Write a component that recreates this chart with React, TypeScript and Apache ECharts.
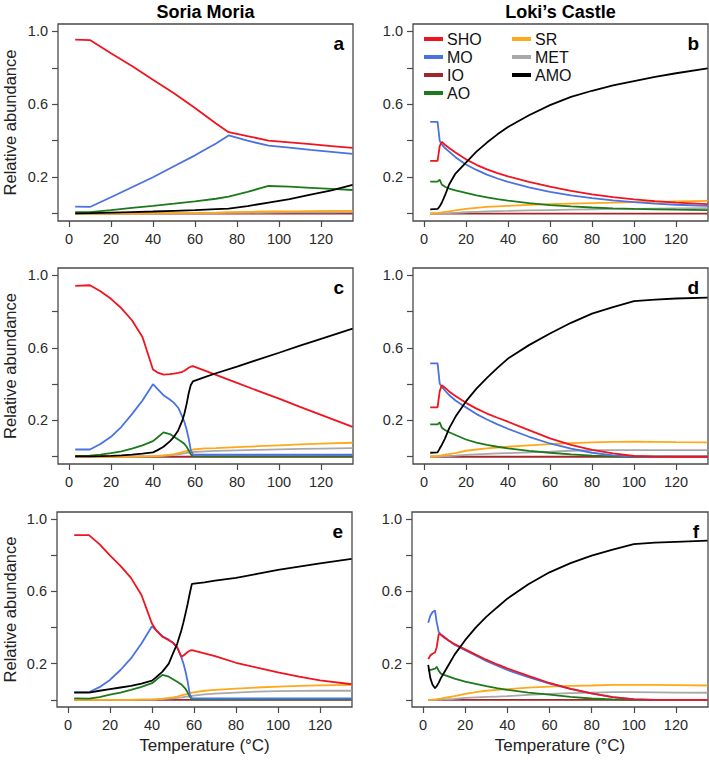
import React, { useEffect, useRef } from "react";
import * as echarts from "echarts";

// ---------- data (relative abundance vs temperature, °C) ----------
const NAMES = ["SHO", "MO", "IO", "AO", "SR", "MET", "AMO"];

// panel a — Soria Moria
const tempA = [3, 10, 20, 30, 40, 50, 60, 70, 76, 85, 95, 105, 115, 125, 135];
const shoA = [0.954, 0.952, 0.88, 0.81, 0.735, 0.66, 0.58, 0.495, 0.447, 0.425, 0.401, 0.391, 0.381, 0.371, 0.361];
const moA = [0.039, 0.037, 0.09, 0.145, 0.2, 0.26, 0.32, 0.385, 0.429, 0.4, 0.373, 0.362, 0.35, 0.339, 0.328];
const ioA = [0, 0, 0, 0, 0, 0, 0, 0, 0, 0, 0, 0, 0, 0, 0];
const aoA = [0.009, 0.009, 0.02, 0.032, 0.043, 0.055, 0.068, 0.082, 0.094, 0.12, 0.152, 0.148, 0.142, 0.136, 0.13];
const srA = [0, 0, 0, 0.001, 0.002, 0.003, 0.004, 0.006, 0.008, 0.01, 0.012, 0.013, 0.014, 0.015, 0.015];
const metA = [0, 0, 0, 0, 0.001, 0.001, 0.002, 0.003, 0.004, 0.005, 0.006, 0.007, 0.008, 0.008, 0.009];
const amoA = [0.002, 0.003, 0.006, 0.009, 0.012, 0.016, 0.02, 0.025, 0.028, 0.042, 0.061, 0.08, 0.105, 0.128, 0.158];

// panel b — Loki's Castle
const tempB = [3, 6.5, 7.5, 8.5, 10, 12, 15, 20, 25, 30, 35, 40, 50, 60, 70, 80, 90, 100, 110, 120, 135];
const shoB = [0.29, 0.29, 0.37, 0.394, 0.378, 0.36, 0.335, 0.298, 0.268, 0.243, 0.222, 0.205, 0.175, 0.148, 0.125, 0.106, 0.091, 0.079, 0.069, 0.061, 0.052];
const moB = [0.503, 0.503, 0.4, 0.38, 0.36, 0.34, 0.31, 0.27, 0.24, 0.214, 0.193, 0.175, 0.145, 0.12, 0.1, 0.085, 0.073, 0.063, 0.055, 0.049, 0.043];
const ioB = [0, 0, 0, 0, 0, 0, 0, 0, 0, 0, 0, 0, 0, 0, 0, 0, 0, 0, 0, 0, 0];
const aoB = [0.176, 0.176, 0.187, 0.16, 0.148, 0.138, 0.128, 0.114, 0.1, 0.09, 0.08, 0.072, 0.058, 0.047, 0.04, 0.034, 0.029, 0.026, 0.024, 0.022, 0.02];
const srB = [0, 0.003, 0.005, 0.007, 0.01, 0.013, 0.018, 0.026, 0.032, 0.037, 0.04, 0.043, 0.048, 0.052, 0.055, 0.058, 0.061, 0.063, 0.065, 0.067, 0.07];
const metB = [0, 0, 0.001, 0.001, 0.002, 0.003, 0.005, 0.008, 0.01, 0.012, 0.014, 0.015, 0.018, 0.02, 0.022, 0.024, 0.026, 0.027, 0.028, 0.029, 0.03];
const amoB = [0.024, 0.026, 0.04, 0.06, 0.1, 0.16, 0.22, 0.28, 0.34, 0.39, 0.435, 0.475, 0.54, 0.595, 0.64, 0.674, 0.703, 0.727, 0.75, 0.77, 0.797];

// panel c — Soria Moria
const tempC = [3, 10, 15, 20, 25, 30, 35, 40, 42, 45, 48, 50, 52, 54, 55, 56, 57, 58, 59, 65, 70, 80, 90, 100, 110, 120, 135];
const shoC = [0.941, 0.945, 0.912, 0.87, 0.818, 0.752, 0.66, 0.481, 0.465, 0.453, 0.455, 0.458, 0.462, 0.468, 0.474, 0.482, 0.49, 0.496, 0.499, 0.473, 0.451, 0.407, 0.363, 0.32, 0.275, 0.231, 0.165];
const moC = [0.04, 0.04, 0.07, 0.11, 0.165, 0.235, 0.31, 0.4, 0.375, 0.339, 0.315, 0.297, 0.27, 0.22, 0.19, 0.15, 0.1, 0.037, 0.012, 0.011, 0.011, 0.011, 0.011, 0.011, 0.011, 0.011, 0.011];
const ioC = [0, 0, 0, 0, 0, 0, 0, 0, 0, 0, 0, 0, 0, 0, 0, 0, 0, 0, 0, 0, 0, 0, 0, 0, 0, 0, 0];
const aoC = [0.005, 0.006, 0.012, 0.02, 0.03, 0.045, 0.063, 0.086, 0.105, 0.134, 0.125, 0.11, 0.095, 0.08, 0.07, 0.055, 0.035, 0.013, 0.003, 0.002, 0.002, 0.002, 0.002, 0.002, 0.002, 0.002, 0.002];
const srC = [0, 0, 0, 0, 0, 0.001, 0.002, 0.003, 0.004, 0.008, 0.012, 0.015, 0.02, 0.025, 0.028, 0.031, 0.033, 0.036, 0.04, 0.046, 0.048, 0.053, 0.058, 0.063, 0.068, 0.072, 0.077];
const metC = [0, 0, 0, 0, 0, 0, 0.001, 0.002, 0.003, 0.005, 0.008, 0.01, 0.013, 0.017, 0.019, 0.021, 0.023, 0.025, 0.026, 0.03, 0.032, 0.035, 0.038, 0.041, 0.043, 0.045, 0.047];
const amoC = [0.002, 0.002, 0.003, 0.005, 0.008, 0.012, 0.017, 0.024, 0.035, 0.055, 0.085, 0.11, 0.145, 0.2, 0.24, 0.29, 0.35, 0.395, 0.415, 0.44, 0.46, 0.497, 0.535, 0.573, 0.612, 0.65, 0.706];

// panel d — Loki's Castle
const tempD = [3, 6.5, 7.5, 8.5, 10, 12, 15, 20, 25, 30, 35, 40, 50, 60, 70, 80, 90, 100, 110, 120, 135];
const shoD = [0.272, 0.272, 0.36, 0.394, 0.38, 0.36, 0.335, 0.297, 0.265, 0.238, 0.215, 0.193, 0.147, 0.101, 0.065, 0.038, 0.018, 0.004, 0.001, 0, 0];
const moD = [0.514, 0.514, 0.404, 0.385, 0.365, 0.34, 0.31, 0.272, 0.235, 0.205, 0.178, 0.154, 0.11, 0.073, 0.045, 0.022, 0.008, 0.001, 0, 0, 0];
const ioD = [0, 0, 0, 0, 0, 0, 0, 0, 0, 0, 0, 0, 0, 0, 0, 0, 0, 0, 0, 0, 0];
const aoD = [0.178, 0.178, 0.189, 0.16, 0.147, 0.135, 0.12, 0.095, 0.078, 0.065, 0.055, 0.046, 0.032, 0.022, 0.013, 0.006, 0.002, 0, 0, 0, 0];
const srD = [0, 0.004, 0.006, 0.008, 0.011, 0.015, 0.02, 0.033, 0.04, 0.046, 0.051, 0.055, 0.063, 0.07, 0.075, 0.079, 0.082, 0.083, 0.082, 0.08, 0.079];
const metD = [0, 0, 0.001, 0.002, 0.003, 0.004, 0.006, 0.01, 0.013, 0.016, 0.018, 0.02, 0.024, 0.028, 0.033, 0.037, 0.037, 0.037, 0.037, 0.037, 0.037];
const amoD = [0.022, 0.024, 0.045, 0.065, 0.1, 0.156, 0.22, 0.305, 0.375, 0.435, 0.49, 0.541, 0.615, 0.679, 0.738, 0.789, 0.825, 0.857, 0.866, 0.872, 0.877];

// panel e — Soria Moria
const tempE = [3, 10, 15, 20, 25, 30, 35, 40, 42, 45, 48, 50, 52, 54, 55, 56, 57, 58, 59, 65, 70, 80, 90, 100, 110, 120, 135];
const shoE = [0.912, 0.912, 0.862, 0.8, 0.742, 0.675, 0.58, 0.422, 0.385, 0.349, 0.33, 0.316, 0.29, 0.239, 0.245, 0.255, 0.265, 0.272, 0.275, 0.257, 0.242, 0.205, 0.178, 0.152, 0.128, 0.107, 0.086];
const moE = [0.042, 0.042, 0.07, 0.11, 0.165, 0.229, 0.312, 0.407, 0.385, 0.352, 0.333, 0.315, 0.29, 0.235, 0.2, 0.155, 0.1, 0.03, 0.008, 0.007, 0.007, 0.007, 0.007, 0.007, 0.007, 0.007, 0.007];
const ioE = [0, 0, 0, 0, 0, 0, 0, 0, 0, 0, 0, 0, 0, 0, 0, 0, 0, 0, 0, 0, 0, 0, 0, 0, 0, 0, 0];
const aoE = [0.008, 0.006, 0.015, 0.028, 0.04, 0.055, 0.072, 0.092, 0.11, 0.138, 0.128, 0.114, 0.1, 0.085, 0.073, 0.06, 0.04, 0.018, 0.003, 0.002, 0.002, 0.002, 0.002, 0.002, 0.002, 0.002, 0.002];
const srE = [0, 0, 0, 0, 0, 0, 0.001, 0.002, 0.003, 0.006, 0.01, 0.013, 0.018, 0.024, 0.027, 0.03, 0.033, 0.036, 0.04, 0.05, 0.055, 0.062, 0.068, 0.073, 0.077, 0.08, 0.083];
const metE = [0, 0, 0, 0, 0, 0, 0.001, 0.001, 0.002, 0.004, 0.006, 0.008, 0.01, 0.013, 0.015, 0.017, 0.018, 0.02, 0.022, 0.03, 0.034, 0.04, 0.045, 0.048, 0.049, 0.05, 0.05];
const amoE = [0.04, 0.04, 0.05, 0.059, 0.068, 0.077, 0.09, 0.106, 0.125, 0.156, 0.2, 0.257, 0.31, 0.385, 0.43, 0.48, 0.532, 0.59, 0.642, 0.65, 0.66, 0.675, 0.697, 0.719, 0.738, 0.756, 0.78];

// panel f — Loki's Castle
const tempF = [2.5, 3.5, 4.5, 5.7, 6.5, 7.5, 8.5, 10, 12, 15, 20, 25, 30, 35, 40, 50, 60, 70, 80, 90, 100, 110, 120, 135];
const shoF = [0.225, 0.245, 0.255, 0.262, 0.29, 0.365, 0.36, 0.345, 0.33, 0.308, 0.279, 0.25, 0.222, 0.197, 0.174, 0.132, 0.093, 0.061, 0.035, 0.015, 0.002, 0, 0, 0];
const moF = [0.426, 0.465, 0.485, 0.495, 0.43, 0.375, 0.362, 0.35, 0.33, 0.305, 0.275, 0.245, 0.215, 0.19, 0.165, 0.125, 0.09, 0.06, 0.035, 0.015, 0.003, 0, 0, 0];
const ioF = [0, 0, 0, 0, 0, 0, 0, 0, 0, 0, 0, 0, 0, 0, 0, 0, 0, 0, 0, 0, 0, 0, 0, 0];
const aoF = [0.161, 0.165, 0.168, 0.172, 0.183, 0.16, 0.145, 0.138, 0.13, 0.117, 0.1, 0.088, 0.076, 0.065, 0.055, 0.04, 0.028, 0.016, 0.007, 0.002, 0, 0, 0, 0];
const srF = [0, 0, 0.001, 0.002, 0.003, 0.005, 0.007, 0.01, 0.014, 0.02, 0.033, 0.042, 0.05, 0.055, 0.059, 0.067, 0.073, 0.077, 0.079, 0.082, 0.083, 0.082, 0.081, 0.079];
const metF = [0, 0, 0, 0, 0, 0.001, 0.001, 0.002, 0.003, 0.005, 0.01, 0.013, 0.016, 0.018, 0.02, 0.027, 0.033, 0.037, 0.04, 0.042, 0.042, 0.041, 0.04, 0.039];
const amoF = [0.193, 0.12, 0.085, 0.064, 0.075, 0.095, 0.12, 0.15, 0.19, 0.25, 0.33, 0.4, 0.459, 0.51, 0.56, 0.64, 0.706, 0.757, 0.798, 0.832, 0.862, 0.87, 0.875, 0.881];

// axis ticks
const xTicks = [0, 20, 40, 60, 80, 100, 120];
const yTicks = [0, 0.2, 0.4, 0.6, 0.8, 1.0];
const yTickLabels = [0.2, 0.6, 1.0];
const panelLetters = ["a", "b", "c", "d", "e", "f"];
const columnTitles = ["Soria Moria", "Loki\u2019s Castle"];

// ---------- styling ----------
const COLORS: Record<string, string> = {
  SHO: "#f0141e",
  MO: "#4a72e0",
  IO: "#a0282a",
  AO: "#1c7a1c",
  SR: "#ffa81a",
  MET: "#a8a8a8",
  AMO: "#000000",
};
const DRAW_ORDER = ["IO", "MET", "SR", "AO", "MO", "SHO", "AMO"];
const FONT = "'Liberation Sans', Arial, Helvetica, sans-serif";

const panels = [
  { temps: tempA, v: { SHO: shoA, MO: moA, IO: ioA, AO: aoA, SR: srA, MET: metA, AMO: amoA } },
  { temps: tempB, v: { SHO: shoB, MO: moB, IO: ioB, AO: aoB, SR: srB, MET: metB, AMO: amoB } },
  { temps: tempC, v: { SHO: shoC, MO: moC, IO: ioC, AO: aoC, SR: srC, MET: metC, AMO: amoC } },
  { temps: tempD, v: { SHO: shoD, MO: moD, IO: ioD, AO: aoD, SR: srD, MET: metD, AMO: amoD } },
  { temps: tempE, v: { SHO: shoE, MO: moE, IO: ioE, AO: aoE, SR: srE, MET: metE, AMO: amoE } },
  { temps: tempF, v: { SHO: shoF, MO: moF, IO: ioF, AO: aoF, SR: srF, MET: metF, AMO: amoF } },
];

const rects = [
  { left: 58, top: 24, width: 295, height: 197 },
  { left: 413, top: 24, width: 295, height: 197 },
  { left: 58, top: 268, width: 295, height: 196 },
  { left: 413, top: 268, width: 295, height: 196 },
  { left: 57, top: 512, width: 295, height: 195 },
  { left: 412, top: 512, width: 296, height: 195 },
];

function buildOption() {
  const grid = rects.map((r) => ({
    ...r,
    show: true,
    borderColor: "#4a4a4a",
    borderWidth: 1.3,
    backgroundColor: "transparent",
    containLabel: false,
  }));

  const xAxis = rects.map((_, i) => ({
    type: "value",
    gridIndex: i,
    min: -5.2,
    max: 135.2,
    axisLine: { show: false, onZero: false },
    axisTick: { show: true, length: 6, lineStyle: { color: "#4a4a4a", width: 1.2 }, customValues: xTicks },
    axisLabel: { customValues: xTicks, margin: 10, fontSize: 14.5, color: "#2a2a2a", fontFamily: FONT },
    splitLine: { show: false },
  }));

  const yAxis = rects.map((_, i) => ({
    type: "value",
    gridIndex: i,
    min: -0.04,
    max: 1.04,
    axisLine: { show: false, onZero: false },
    axisTick: { show: true, length: 6, lineStyle: { color: "#4a4a4a", width: 1.2 }, customValues: yTicks },
    axisLabel: {
      customValues: yTickLabels,
      margin: 10,
      fontSize: 14.5,
      color: "#2a2a2a",
      fontFamily: FONT,
      formatter: (v: number) => v.toFixed(1),
    },
    splitLine: { show: false },
  }));

  const series: any[] = [];
  panels.forEach((p, i) => {
    DRAW_ORDER.forEach((name, k) => {
      const vals = (p.v as any)[name] as number[];
      series.push({
        type: "line",
        name,
        xAxisIndex: i,
        yAxisIndex: i,
        data: p.temps.map((t, j) => [t, vals[j]]),
        showSymbol: false,
        symbol: "none",
        clip: true,
        z: 2 + k,
        lineStyle: { width: 1.8, color: COLORS[name] },
        itemStyle: { color: COLORS[name] },
        emphasis: { disabled: true },
      });
    });
  });

  const legendCommon = {
    orient: "vertical",
    icon: "rect",
    itemWidth: 19,
    itemHeight: 4,
    itemGap: 2,
    padding: 0,
    selectedMode: false,
    textStyle: { fontSize: 16, lineHeight: 16, color: "#111", fontFamily: FONT, padding: [0, 0, 0, -1] },
  };
  const legend = [
    { ...legendCommon, data: NAMES.slice(0, 4), left: 424, top: 31 },
    { ...legendCommon, data: NAMES.slice(4), left: 512, top: 31 },
  ];

  const graphic: any[] = [];
  columnTitles.forEach((t, c) => {
    const r = rects[c];
    graphic.push({
      type: "text",
      x: r.left + r.width / 2,
      y: 12,
      style: { text: t, font: `bold 18px ${FONT}`, fill: "#000", align: "center", verticalAlign: "middle" },
    });
  });
  rects.forEach((r, i) => {
    graphic.push({
      type: "text",
      x: r.left + r.width - 9,
      y: r.top + 19,
      style: { text: panelLetters[i], font: `bold 19px ${FONT}`, fill: "#000", align: "right", verticalAlign: "middle" },
    });
    if (i % 2 === 0) {
      graphic.push({
        type: "text",
        x: 10,
        y: r.top + r.height / 2,
        rotation: Math.PI / 2,
        style: { text: "Relative abundance", font: `16.5px ${FONT}`, fill: "#222", align: "center", verticalAlign: "middle" },
      });
    }
    if (i >= 4) {
      graphic.push({
        type: "text",
        x: r.left + r.width / 2,
        y: 745,
        style: { text: "Temperature (\u00B0C)", font: `17px ${FONT}`, fill: "#222", align: "center", verticalAlign: "middle" },
      });
    }
  });

  return {
    animation: false,
    backgroundColor: "#fff",
    grid,
    xAxis,
    yAxis,
    legend,
    series,
    graphic,
  };
}

export default function App() {
  const ref = useRef<HTMLDivElement>(null);
  useEffect(() => {
    if (!ref.current) return;
    const chart = echarts.init(ref.current, null, { renderer: "svg" });
    chart.setOption(buildOption() as any);
    return () => chart.dispose();
  }, []);
  return (
    <div
      ref={ref}
      style={{ position: "absolute", left: 0, top: 0, width: 709, height: 760, background: "#fff" }}
    />
  );
}
